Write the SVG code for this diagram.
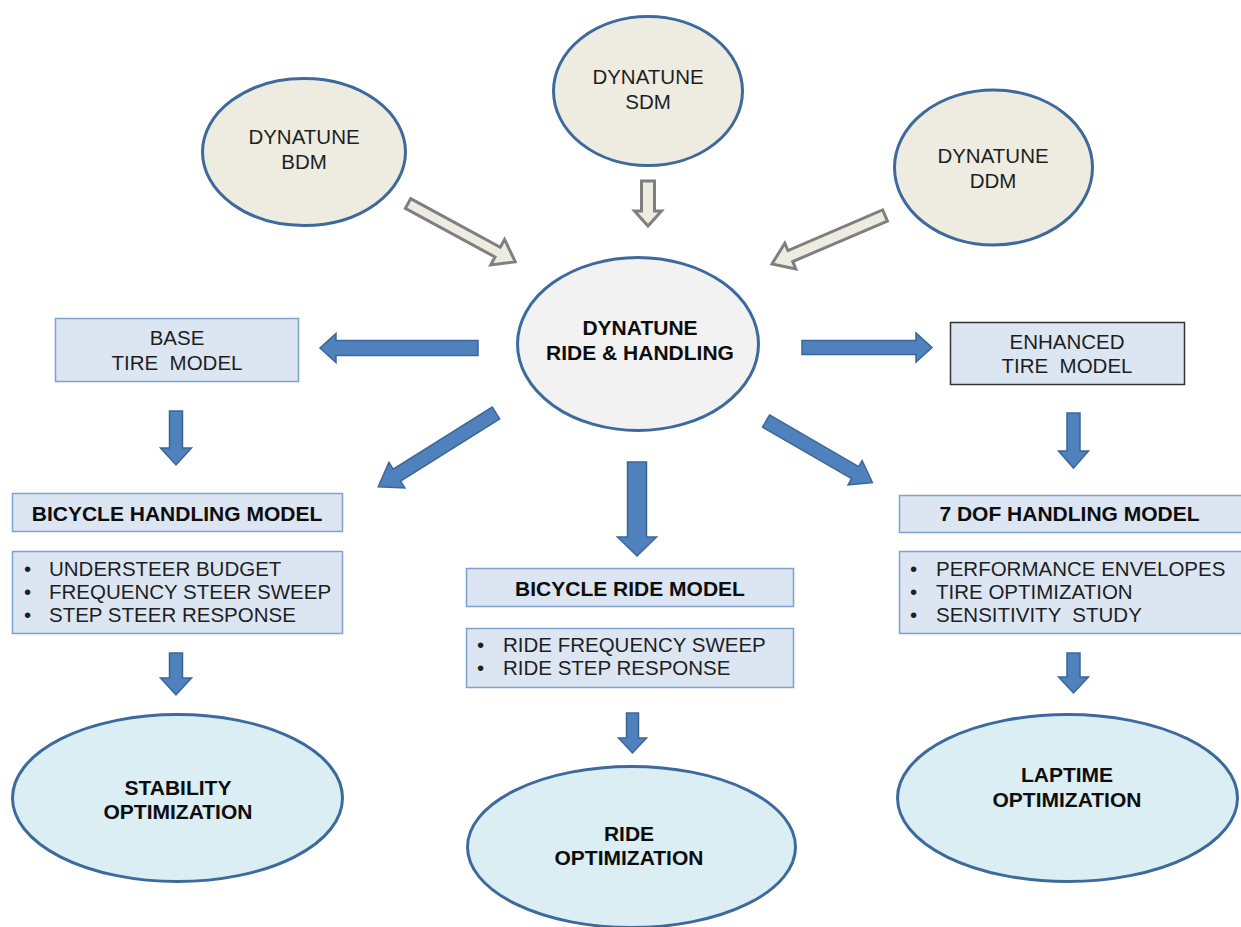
<svg xmlns="http://www.w3.org/2000/svg" width="1241" height="927" viewBox="0 0 1241 927">
<style>
text{font-family:"Liberation Sans",Arial,sans-serif;fill:#1e1e1e}
.r{font-size:20.5px}
.b{font-size:21px;font-weight:bold;fill:#0d0d0d}
.c{text-anchor:middle}
.src{fill:#EEECE1;stroke:#3D6A9C;stroke-width:3}
.hub{fill:#F2F2F2;stroke:#3D6A9C;stroke-width:3}
.opt{fill:#DBEEF4;stroke:#3D6A9C;stroke-width:3}
.box{fill:#DCE6F2;stroke:#7FA1CF;stroke-width:1.5}
.boxd{fill:#DCE6F2;stroke:#333333;stroke-width:1.5}
.ha{fill:#EEECE1;stroke:#7F7F7F;stroke-width:3;stroke-linejoin:miter}
.ba{fill:#4F81BD;stroke:#3A6699;stroke-width:1.5}
</style>
<rect width="1241" height="927" fill="#ffffff"/>

<g id="connectors">
  <!-- hollow input arrows -->
  <polygon class="ha" transform="translate(408,203.5) rotate(28.5)" points="0,-5.5 102,-5.5 102,-14.5 122,0 102,14.5 102,5.5 0,5.5"/>
  <polygon class="ha" transform="translate(648,181) rotate(90)" points="0,-6.5 30,-6.5 30,-13.5 45,0 30,13.5 30,6.5 0,6.5"/>
  <polygon class="ha" transform="translate(885,215.5) rotate(156.8)" points="0,-6 103,-6 103,-14 123,0 103,14 103,6 0,6"/>
  <!-- blue output arrows -->
  <polygon class="ba" transform="translate(478,348) rotate(180)" points="0,-7.5 142,-7.5 142,-14.5 158,0 142,14.5 142,7.5 0,7.5"/>
  <polygon class="ba" transform="translate(802,347.5)" points="0,-7 114,-7 114,-14.5 130,0 114,14.5 114,7 0,7"/>
  <polygon class="ba" transform="translate(496,413) rotate(147.9)" points="0,-7 117,-7 117,-15 139,0 117,15 117,7 0,7"/>
  <polygon class="ba" transform="translate(766,421) rotate(30.1)" points="0,-7 103,-7 103,-14 123,0 103,14 103,7 0,7"/>
  <polygon class="ba" transform="translate(637,462) rotate(90)" points="0,-9.5 75,-9.5 75,-19.5 94,0 75,19.5 75,9.5 0,9.5"/>
  <polygon class="ba" transform="translate(176,411) rotate(90)" points="0,-6.5 37,-6.5 37,-15.5 54,0 37,15.5 37,6.5 0,6.5"/>
  <polygon class="ba" transform="translate(1073.5,413) rotate(90)" points="0,-6.5 38,-6.5 38,-15 55,0 38,15 38,6.5 0,6.5"/>
  <polygon class="ba" transform="translate(176,653) rotate(90)" points="0,-6.5 25,-6.5 25,-15.5 42,0 25,15.5 25,6.5 0,6.5"/>
  <polygon class="ba" transform="translate(1073.5,653) rotate(90)" points="0,-6.5 24,-6.5 24,-15 40,0 24,15 24,6.5 0,6.5"/>
  <polygon class="ba" transform="translate(632.5,713) rotate(90)" points="0,-6 25,-6 25,-14 40,0 25,14 25,6 0,6"/>
</g>

<g id="bdm">
  <ellipse class="src" cx="304" cy="152" rx="101.5" ry="73.5"/>
  <text class="r c" x="304" y="144">DYNATUNE</text>
  <text class="r c" x="304" y="169">BDM</text>
</g>
<g id="sdm">
  <ellipse class="src" cx="648" cy="91" rx="94.5" ry="74.5"/>
  <text class="r c" x="648" y="84">DYNATUNE</text>
  <text class="r c" x="648" y="109">SDM</text>
</g>
<g id="ddm">
  <ellipse class="src" cx="993.5" cy="167.5" rx="99" ry="77.5"/>
  <text class="r c" x="993" y="163">DYNATUNE</text>
  <text class="r c" x="993" y="188">DDM</text>
</g>
<g id="hub">
  <ellipse class="hub" cx="638" cy="344" rx="120.5" ry="86.5"/>
  <text class="b c" x="640" y="334.5">DYNATUNE</text>
  <text class="b c" x="640" y="359.5">RIDE &amp; HANDLING</text>
</g>
<g id="base-tire">
  <rect class="box" x="55.5" y="318.5" width="243" height="63"/>
  <text class="r c" x="177" y="345">BASE</text>
  <text class="r c" x="177" y="370" xml:space="preserve">TIRE  MODEL</text>
</g>
<g id="enhanced-tire">
  <rect class="boxd" x="950.5" y="322.5" width="234" height="62"/>
  <text class="r c" x="1067" y="349">ENHANCED</text>
  <text class="r c" x="1067" y="373" xml:space="preserve">TIRE  MODEL</text>
</g>
<g id="bicycle-handling">
  <rect class="box" x="12.5" y="493.5" width="330" height="38"/>
  <text class="b c" x="177" y="520.5">BICYCLE HANDLING MODEL</text>
</g>
<g id="handling-list">
  <rect class="box" x="12.5" y="551.5" width="330" height="82"/>
  <text class="r" x="24" y="576">•</text><text class="r" x="49" y="576">UNDERSTEER BUDGET</text>
  <text class="r" x="24" y="599">•</text><text class="r" x="49" y="599">FREQUENCY STEER SWEEP</text>
  <text class="r" x="24" y="622">•</text><text class="r" x="49" y="622">STEP STEER RESPONSE</text>
</g>
<g id="bicycle-ride">
  <rect class="box" x="466.5" y="568.5" width="327" height="38"/>
  <text class="b c" x="630" y="595.5">BICYCLE RIDE MODEL</text>
</g>
<g id="ride-list">
  <rect class="box" x="466.5" y="628.5" width="327" height="59"/>
  <text class="r" x="477" y="652">•</text><text class="r" x="503" y="652">RIDE FREQUENCY SWEEP</text>
  <text class="r" x="477" y="675">•</text><text class="r" x="503" y="675">RIDE STEP RESPONSE</text>
</g>
<g id="dof7-handling">
  <rect class="box" x="899.5" y="495.5" width="350" height="37"/>
  <text class="b c" x="1069.5" y="520.5">7 DOF HANDLING MODEL</text>
</g>
<g id="dof7-list">
  <rect class="box" x="899.5" y="551.5" width="350" height="82"/>
  <text class="r" x="910" y="576">•</text><text class="r" x="936" y="576">PERFORMANCE ENVELOPES</text>
  <text class="r" x="910" y="599">•</text><text class="r" x="936" y="599">TIRE OPTIMIZATION</text>
  <text class="r" x="910" y="622">•</text><text class="r" x="936" y="622" xml:space="preserve">SENSITIVITY  STUDY</text>
</g>
<g id="stability-opt">
  <ellipse class="opt" cx="177.5" cy="798" rx="165" ry="83.5"/>
  <text class="b c" x="178" y="794.5">STABILITY</text>
  <text class="b c" x="178" y="818.5">OPTIMIZATION</text>
</g>
<g id="ride-opt">
  <ellipse class="opt" cx="631.5" cy="847" rx="164" ry="80.5"/>
  <text class="b c" x="629" y="840.5">RIDE</text>
  <text class="b c" x="629" y="864.5">OPTIMIZATION</text>
</g>
<g id="laptime-opt">
  <ellipse class="opt" cx="1067.5" cy="798" rx="170" ry="83.5"/>
  <text class="b c" x="1067" y="781.5">LAPTIME</text>
  <text class="b c" x="1067" y="806.5">OPTIMIZATION</text>
</g>
</svg>
